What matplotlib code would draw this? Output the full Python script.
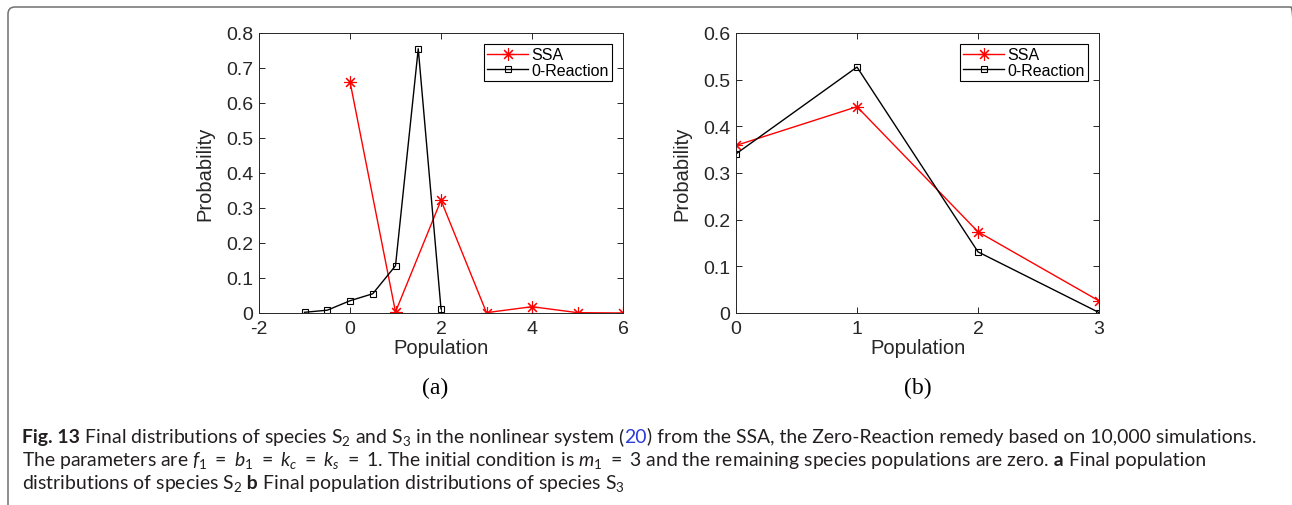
import matplotlib
matplotlib.use('Agg')
import matplotlib.pyplot as plt
from matplotlib.patches import FancyBboxPatch
from matplotlib.transforms import IdentityTransform
from matplotlib.ticker import FuncFormatter

# panel (a): species S2
pop_a_ssa = [0, 1, 2, 3, 4, 5, 6]
prob_a_ssa = [0.661, 0.003, 0.322, 0.001, 0.018, 0.001, 0.0]
pop_a_zero = [-1, -0.5, 0, 0.5, 1, 1.5, 2]
prob_a_zero = [0.002, 0.008, 0.035, 0.055, 0.135, 0.755, 0.012]

# panel (b): species S3
pop_b = [0, 1, 2, 3]
prob_b_ssa = [0.359, 0.442, 0.174, 0.026]
prob_b_zero = [0.341, 0.527, 0.131, 0.001]

series_labels = ['SSA', '0-Reaction']
panel_labels = ['(a)', '(b)']

W, H = 1292, 506
fig = plt.figure(figsize=(W / 100, H / 100), dpi=100)

plt.rcParams['mathtext.fontset'] = 'custom'
plt.rcParams['mathtext.rm'] = 'Lato'
plt.rcParams['mathtext.it'] = 'Lato:italic'
plt.rcParams['mathtext.bf'] = 'Lato:bold'

axis_font = 'Liberation Sans'
axis_col = '#262626'
asterisk = (8, 2, 0)


def px_axes(x0, y0, x1, y1):
    # pixel box (top-left origin) -> figure fraction axes
    return fig.add_axes([x0 / W, 1 - y1 / H, (x1 - x0) / W, (y1 - y0) / H])


def style_axes(ax, xlim, ylim, xticks, yticks):
    ax.set_xlim(*xlim)
    ax.set_ylim(*ylim)
    ax.set_xticks(xticks)
    ax.set_yticks(yticks)
    fmt = FuncFormatter(lambda v, p: '%g' % round(v, 3))
    ax.xaxis.set_major_formatter(fmt)
    ax.yaxis.set_major_formatter(fmt)
    ax.tick_params(direction='in', top=True, right=True, length=4, width=0.7,
                   color=axis_col, labelcolor=axis_col, labelsize=14)
    ax.tick_params(axis='x', pad=5)
    ax.tick_params(axis='y', pad=4)
    for lab in ax.get_xticklabels() + ax.get_yticklabels():
        lab.set_family(axis_font)
    for sp in ax.spines.values():
        sp.set_linewidth(0.7)
        sp.set_color(axis_col)
    ax.set_xlabel('Population', fontsize=14.5, family=axis_font, color=axis_col)
    ax.set_ylabel('Probability', fontsize=14.5, family=axis_font, color=axis_col)
    ax.xaxis.label.set_va('center')
    ax.yaxis.label.set_va('center')
    ax.xaxis.set_label_coords(0.5, -0.125)
    ax.yaxis.set_label_coords(-0.148, 0.5)
    leg = ax.legend(loc='upper right', bbox_to_anchor=(0.97, 0.961), borderaxespad=0,
                    fancybox=False, edgecolor='black', framealpha=1,
                    prop={'family': axis_font, 'size': 11.5}, handlelength=2.6,
                    handletextpad=0.2, labelspacing=0.05, borderpad=0.2)
    leg.get_frame().set_linewidth(0.8)


# (a)
ax1 = px_axes(259, 34, 623, 314)
ax1.plot(pop_a_ssa, prob_a_ssa, color='red', lw=1, marker=asterisk, ms=9, mew=0.8,
         label=series_labels[0])
ax1.plot(pop_a_zero, prob_a_zero, color='black', lw=1, marker='s', ms=4.5, mew=0.8,
         mfc='none', label=series_labels[1])
style_axes(ax1, (-2, 6), (0, 0.8), range(-2, 7, 2), [i / 10 for i in range(9)])

# (b)
ax2 = px_axes(736, 34, 1099, 314)
ax2.plot(pop_b, prob_b_ssa, color='red', lw=1, marker=asterisk, ms=9, mew=0.8,
         label=series_labels[0])
ax2.plot(pop_b, prob_b_zero, color='black', lw=1, marker='s', ms=4.5, mew=0.8,
         mfc='none', label=series_labels[1])
style_axes(ax2, (0, 3), (0, 0.6), range(0, 4), [i / 10 for i in range(7)])

for lab, xc in zip(panel_labels, [435, 918]):
    fig.text(xc / W, 1 - 388 / H, lab, ha='center', va='center', fontsize=17,
             family='Liberation Serif', color='black')

# frame around the figure
frame = FancyBboxPatch((8, -30), 1290, 30 + H - 8,
                       boxstyle='round,pad=0,rounding_size=7',
                       transform=IdentityTransform(), fill=False,
                       edgecolor='#707070', lw=1.1)
fig.add_artist(frame)

# caption
cap_col = '#231f20'
cap_font = 'Lato'
eq = '\\ =\\ '
caption_lines = [
    [('Fig. 13', 'bold', cap_col),
     (' Final distributions of species S$_\\mathrm{2}$ and S$_\\mathrm{3}$ in the nonlinear system',
      'normal', cap_col),
     (' (', 'normal', cap_col),
     ('20', 'normal', '#2b3bd8'),
     (') from the SSA, the Zero-Reaction remedy based on 10,000 simulations.', 'normal', cap_col)],
    [('The parameters are $f_\\mathrm{1}' + eq + 'b_\\mathrm{1}' + eq + 'k_c' + eq + 'k_s'
      + eq + '\\mathrm{1}$. The initial condition is $m_\\mathrm{1}' + eq
      + '\\mathrm{3}$ and the remaining species populations are zero.', 'normal', cap_col),
     (' a', 'bold', cap_col),
     (' Final population', 'normal', cap_col)],
    [('distributions of species S$_\\mathrm{2}$', 'normal', cap_col),
     (' b', 'bold', cap_col),
     (' Final population distributions of species S$_\\mathrm{3}$', 'normal', cap_col)],
]
baselines = [443, 466, 489]
x_start, x_end = 22, 1253

renderer = fig.canvas.get_renderer()


def put_line(parts, y, size):
    x = x_start
    made = []
    for txt, weight, col in parts:
        t = fig.text(x / W, 1 - y / H, txt, fontsize=size, fontweight=weight,
                     color=col, family=cap_font, ha='left', va='baseline')
        made.append(t)
        x = t.get_window_extent(renderer).x1
    return made, x


trial, xe = put_line(caption_lines[0], baselines[0], 10)
size = 10 * (x_end - x_start) / (xe - x_start)
for t in trial:
    t.remove()
for parts, y in zip(caption_lines, baselines):
    put_line(parts, y, size)

fig.savefig('out.png', dpi=100)
